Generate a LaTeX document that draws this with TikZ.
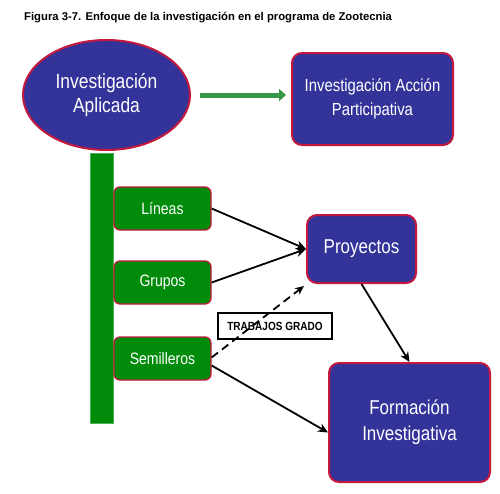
\documentclass[tikz,border=0pt]{standalone}
\usepackage{fontspec}
\setmainfont{Liberation Sans}
\newfontfamily\narrowsans[FakeStretch=0.85]{Liberation Sans}
\usetikzlibrary{shapes.geometric,arrows.meta}
\definecolor{navy}{RGB}{51,51,153}
\definecolor{bordo}{RGB}{196,24,60}
\definecolor{gbox}{RGB}{0,140,10}
\definecolor{garrow}{RGB}{56,150,72}
\tikzset{
  bluebox/.style={draw=bordo, line width=2pt, fill=navy, rounded corners=10pt, text=white, align=center, inner sep=0pt, font=\narrowsans\fontsize{20}{26}\selectfont},
  greenbox/.style={draw=bordo, line width=1.3pt, fill=gbox, rounded corners=6pt, text=white, align=center, inner sep=0pt, minimum width=97pt, minimum height=43pt, font=\narrowsans\fontsize{16.5}{20}\selectfont},
  conn/.style={line width=1.8pt, -{Stealth[length=10pt,width=9pt]}},
}
\begin{document}
\begin{tikzpicture}[x=1pt,y=-1pt]
\useasboundingbox (0,0) rectangle (500,493);
\node[anchor=west, inner sep=0pt, font=\bfseries\fontsize{11.3}{13}\selectfont] (title) at (24,18) {Figura 3-7. Enfoque de la investigación en el programa de Zootecnia};
\node[ellipse, draw=bordo, line width=2pt, fill=navy, minimum width=167pt, minimum height=110pt, inner sep=0pt, text=white, align=center, font=\narrowsans\fontsize{20.5}{24.5}\selectfont] (ia) at (106.5,95) {Investigación\\Aplicada};
\node[bluebox, minimum width=161pt, minimum height=92pt, font=\narrowsans\fontsize{17.5}{24}\selectfont] (iap) at (372.5,99) {Investigación Acción\\Participativa};
\node[fill=gbox, draw=gbox!70!white, line width=0.6pt, minimum width=23pt, minimum height=270pt, inner sep=0pt] (bar) at (101.5,288) {};
\node[greenbox] (lin) at (162.5,208.5) {Líneas};
\node[greenbox] (gru) at (162.5,282.5) {Grupos};
\node[greenbox] (sem) at (162.5,358.5) {Semilleros};
\node[bluebox, minimum width=109pt, minimum height=68pt] (proy) at (361.5,249) {Proyectos};
\node[bluebox, minimum width=161pt, minimum height=119pt] (form) at (409.5,422.5) {Formación\\Investigativa};
\node[draw=black, line width=1.2pt, fill=white, minimum width=114pt, minimum height=26pt, inner sep=0pt, font=\narrowsans\bfseries\fontsize{11.8}{13}\selectfont] (tg) at (275,326) {TRABAJOS GRADO};
\draw[garrow, line width=5pt, shorten <=9pt, shorten >=5pt, -{Triangle[length=7pt,width=12pt]}] (ia.east) -- (ia.east -| iap.west);
\draw[conn] (lin.east) -- (proy.west);
\draw[conn] (gru.east) -- (proy.west);
\draw[conn, dashed, dash pattern=on 8pt off 5pt, line width=1.8pt, -{Stealth[length=9pt,width=8pt,open]}] ([yshift=1pt]sem.east) -- ([xshift=-2pt,yshift=-2pt]proy.south west);
\draw[conn] ([yshift=-7pt]sem.east) -- ([yshift=-10pt]form.west);
\draw[conn] (proy.south) -- (form.north);
\end{tikzpicture}
\end{document}
